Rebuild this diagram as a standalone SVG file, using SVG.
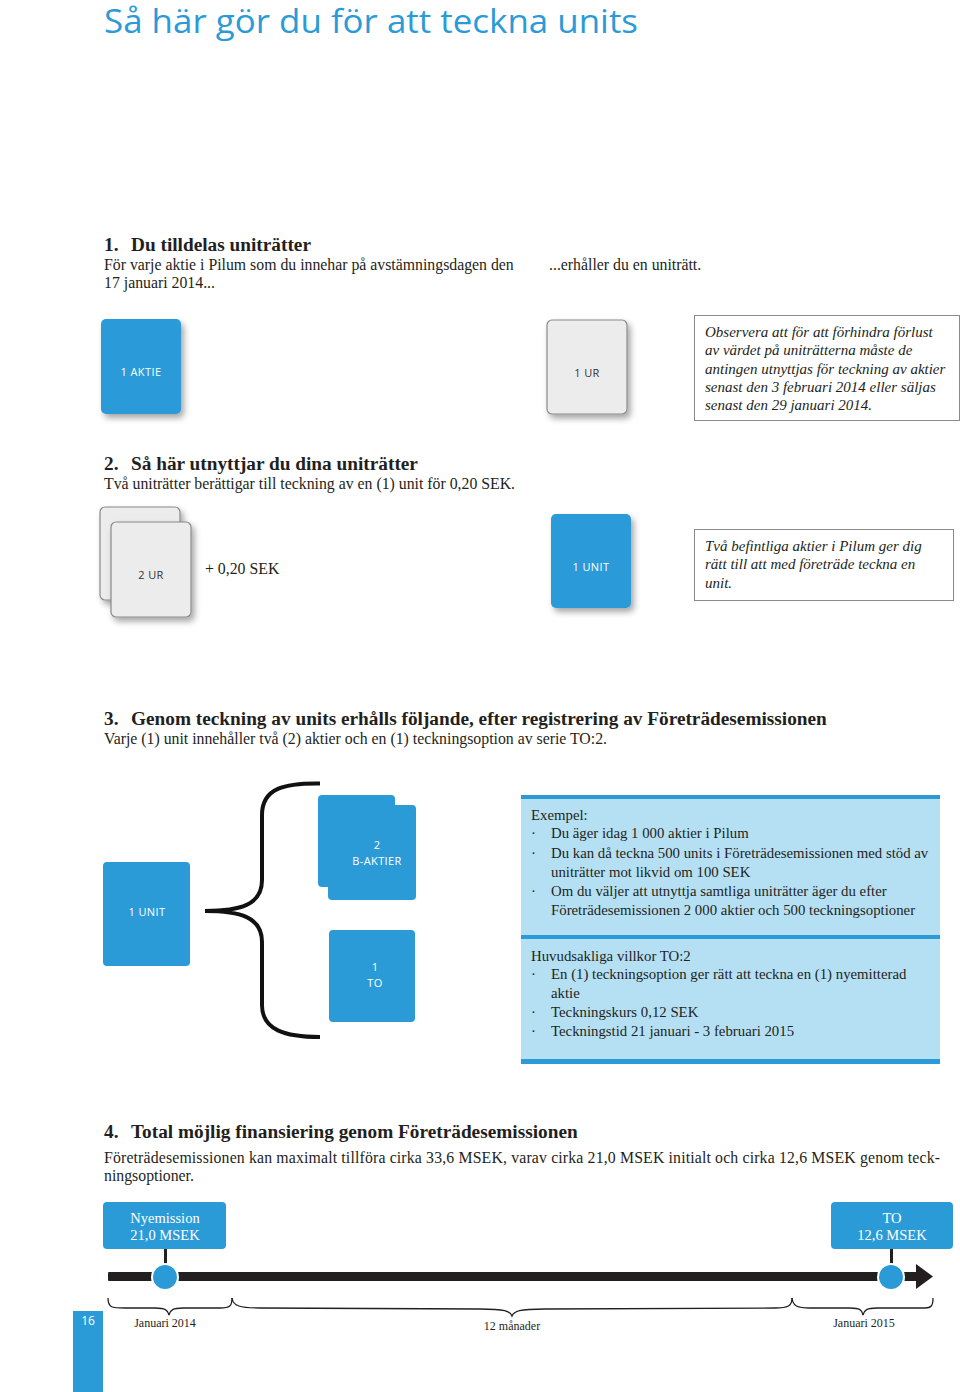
<svg xmlns="http://www.w3.org/2000/svg" width="960" height="1392" viewBox="0 0 960 1392">
<style>
.title{font-family:"Open Sans","Noto Sans",sans-serif;font-size:32px;fill:#2b9bd8}
.h{font-family:"Liberation Serif",serif;font-weight:bold;font-size:19.3px;fill:#231f20}
.t{font-family:"Liberation Serif",serif;font-size:15.8px;fill:#231f20}
.it{font-family:"Liberation Serif",serif;font-style:italic;font-size:15px;fill:#231f20}
.bl{font-family:"Open Sans","Noto Sans",sans-serif;font-size:11px;fill:#fff;text-anchor:middle;letter-spacing:0.4px}
.gl{font-family:"Open Sans","Noto Sans",sans-serif;font-size:11px;fill:#333;text-anchor:middle;letter-spacing:0.4px}
.blue{fill:#2b9bd8}
.card{fill:#ececec;stroke:#8a8a8a;stroke-width:1.2}
.note{fill:#fff;stroke:#8a8a8a;stroke-width:1}
.ib{font-family:"Liberation Serif",serif;font-size:14.8px;fill:#231f20}
.tl{font-family:"Liberation Serif",serif;font-size:14.5px;fill:#fff;text-anchor:middle}
.sm{font-family:"Liberation Serif",serif;font-size:12px;fill:#231f20;text-anchor:middle}
.br{fill:none;stroke:#231f20;stroke-width:1.3}
.bigbr{fill:none;stroke:#111;stroke-width:4}
</style>
<defs>
<filter id="sh" x="-20%" y="-20%" width="150%" height="150%">
<feDropShadow dx="3" dy="4" stdDeviation="3" flood-color="#000" flood-opacity="0.35"/>
</filter>
</defs>

<text class="title" x="104" y="33" textLength="534" lengthAdjust="spacingAndGlyphs">Så här gör du för att teckna units</text>

<!-- Section 1 -->
<text class="h" x="104" y="251">1.</text><text class="h" x="131" y="251">Du tilldelas uniträtter</text>
<text class="t" x="104" y="270">För varje aktie i Pilum som du innehar på avstämningsdagen den</text>
<text class="t" x="104" y="288">17 januari 2014...</text>
<text class="t" x="549" y="270">...erhåller du en uniträtt.</text>

<g id="aktie1">
<rect class="blue" x="101" y="319" width="80" height="95" rx="5" filter="url(#sh)"/>
<text class="bl" x="141" y="376">1 AKTIE</text>
</g>
<g id="ur1">
<rect class="card" x="547" y="320" width="80" height="94" rx="5" filter="url(#sh)"/>
<text class="gl" x="587" y="377">1 UR</text>
</g>
<g id="note1">
<rect class="note" x="694.5" y="315.5" width="265" height="105"/>
<text class="it" x="705" y="337">Observera att för att förhindra förlust</text>
<text class="it" x="705" y="355">av värdet på uniträtterna måste de</text>
<text class="it" x="705" y="374">antingen utnyttjas för teckning av aktier</text>
<text class="it" x="705" y="392">senast den 3 februari 2014 eller säljas</text>
<text class="it" x="705" y="410">senast den 29 januari 2014.</text>
</g>

<!-- Section 2 -->
<text class="h" x="104" y="470">2.</text><text class="h" x="131" y="470">Så här utnyttjar du dina uniträtter</text>
<text class="t" x="104" y="489">Två uniträtter berättigar till teckning av en (1) unit för 0,20 SEK.</text>

<g id="ur2">
<rect class="card" x="100" y="507" width="80" height="93" rx="5" filter="url(#sh)"/>
<rect class="card" x="111" y="522" width="80" height="95" rx="5" filter="url(#sh)"/>
<text class="gl" x="151" y="579">2 UR</text>
</g>
<text class="t" x="205" y="574">+ 0,20 SEK</text>
<g id="unit1">
<rect class="blue" x="551" y="514" width="80" height="94" rx="5" filter="url(#sh)"/>
<text class="bl" x="591" y="571">1 UNIT</text>
</g>
<g id="note2">
<rect class="note" x="694.5" y="529.5" width="259" height="71"/>
<text class="it" x="705" y="551">Två befintliga aktier i Pilum ger dig</text>
<text class="it" x="705" y="569">rätt till att med företräde teckna en</text>
<text class="it" x="705" y="588">unit.</text>
</g>

<!-- Section 3 -->
<text class="h" x="104" y="725">3.</text><text class="h" x="131" y="725">Genom teckning av units erhålls följande, efter registrering av Företrädesemissionen</text>
<text class="t" x="104" y="744">Varje (1) unit innehåller två (2) aktier och en (1) teckningsoption av serie TO:2.</text>

<g id="unit2">
<rect class="blue" x="103" y="862" width="87" height="104" rx="4"/>
<text class="bl" x="147" y="916">1 UNIT</text>
</g>
<g id="baktier">
<rect class="blue" x="318" y="795" width="77" height="92" rx="4"/>
<rect class="blue" x="328" y="805" width="88" height="95" rx="4"/>
<text class="bl" x="377" y="849">2</text>
<text class="bl" x="377" y="865">B-AKTIER</text>
</g>
<g id="to1">
<rect class="blue" x="329" y="930" width="86" height="92" rx="4"/>
<text class="bl" x="375" y="971">1</text>
<text class="bl" x="375" y="987">TO</text>
</g>

<g id="infobox">
<rect x="521" y="797" width="419" height="265" fill="#b5e0f4"/>
<rect class="blue" x="521" y="795" width="419" height="4"/>
<rect class="blue" x="521" y="935" width="419" height="4"/>
<rect class="blue" x="521" y="1059" width="419" height="5"/>
<text class="ib" x="531" y="820">Exempel:</text>
<text class="ib" x="531" y="838">·</text><text class="ib" x="551" y="838">Du äger idag 1 000 aktier i Pilum</text>
<text class="ib" x="531" y="858">·</text><text class="ib" x="551" y="858">Du kan då teckna 500 units i Företrädesemissionen med stöd av</text>
<text class="ib" x="551" y="877">uniträtter mot likvid om 100 SEK</text>
<text class="ib" x="531" y="896">·</text><text class="ib" x="551" y="896">Om du väljer att utnyttja samtliga uniträtter äger du efter</text>
<text class="ib" x="551" y="915">Företrädesemissionen 2 000 aktier och 500 teckningsoptioner</text>
<text class="ib" x="531" y="961">Huvudsakliga villkor TO:2</text>
<text class="ib" x="531" y="979">·</text><text class="ib" x="551" y="979">En (1) teckningsoption ger rätt att teckna en (1) nyemitterad</text>
<text class="ib" x="551" y="998">aktie</text>
<text class="ib" x="531" y="1017">·</text><text class="ib" x="551" y="1017">Teckningskurs 0,12 SEK</text>
<text class="ib" x="531" y="1036">·</text><text class="ib" x="551" y="1036">Teckningstid 21 januari - 3 februari 2015</text>
</g>

<!-- Section 4 -->
<text class="h" x="104" y="1138">4.</text><text class="h" x="131" y="1138">Total möjlig finansiering genom Företrädesemissionen</text>
<text class="t" x="104" y="1163" textLength="836" lengthAdjust="spacing">Företrädesemissionen kan maximalt tillföra cirka 33,6 MSEK, varav cirka 21,0 MSEK initialt och cirka 12,6 MSEK genom teck-</text>
<text class="t" x="104" y="1181">ningsoptioner.</text>

<g id="nyemission">
<rect class="blue" x="103" y="1202" width="123" height="47" rx="4"/>
<text class="tl" x="165" y="1223">Nyemission</text>
<text class="tl" x="165" y="1240">21,0 MSEK</text>
</g>
<g id="to2">
<rect class="blue" x="831" y="1202" width="122" height="47" rx="4"/>
<text class="tl" x="892" y="1223">TO</text>
<text class="tl" x="892" y="1240">12,6 MSEK</text>
</g>

<g id="connectors">
<path class="bigbr" d="M320 783.5 C285 783 262 788 262 815 L262 880 C262 905 240 911 205 911 C240 911 262 917 262 942 L262 1005 C262 1030 285 1037 320 1037"/>
<rect x="108" y="1272" width="810" height="9" rx="1" fill="#231f20"/>
<polygon points="916,1264 933,1276.5 916,1289" fill="#231f20"/>
<rect x="164" y="1249" width="3" height="16" fill="#231f20"/>
<rect x="890" y="1249" width="3" height="16" fill="#231f20"/>
<circle cx="165" cy="1277" r="14" fill="#fff"/>
<circle cx="165" cy="1277" r="12" class="blue"/>
<circle cx="891" cy="1277" r="14" fill="#fff"/>
<circle cx="891" cy="1277" r="12" class="blue"/>
<path class="br" d="M108 1298 C108 1308 112 1308 125 1308 L155 1308 C165 1308 168 1310 169 1315 C170 1310 173 1308 183 1308 L220 1308 C230 1308 232 1306 232 1298"/>
<path class="br" d="M232 1298 C233 1306 240 1308 260 1308 L480 1309 C505 1309 510 1311 512 1316 C514 1311 519 1309 545 1309 L775 1308 C788 1308 792 1306 792 1298"/>
<path class="br" d="M792 1298 C793 1306 797 1308 810 1308 L850 1308 C860 1308 862 1310 863 1315 C864 1310 867 1308 877 1308 L925 1308 C931 1308 933 1306 933 1298"/>
</g>
<text class="sm" x="165" y="1327">Januari 2014</text>
<text class="sm" x="512" y="1330">12 månader</text>
<text class="sm" x="864" y="1327">Januari 2015</text>

<g id="pagenum">
<rect class="blue" x="73" y="1311" width="30" height="81"/>
<text x="88" y="1325" font-family="Open Sans, sans-serif" font-size="12" fill="#fff" text-anchor="middle">16</text>
</g>
</svg>
